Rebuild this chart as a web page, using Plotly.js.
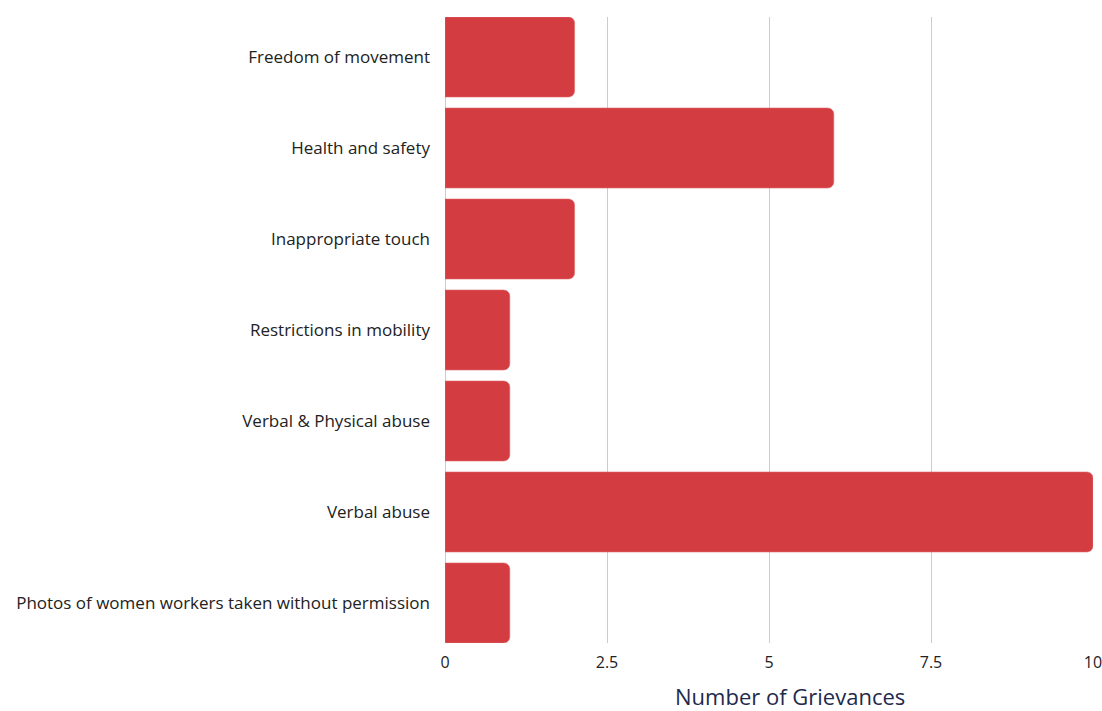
<!DOCTYPE html>
<html>
<head>
<meta charset="utf-8">
<script src="https://cdn.plot.ly/plotly-3.0.1.min.js"></script>
<style>html,body{margin:0;padding:0;background:#fff;}#chart{width:1102px;height:711px;}</style>
</head>
<body>
<div id="chart"></div>
<script>
var categories = ["Freedom of movement", "Health and safety", "Inappropriate touch", "Restrictions in mobility", "Verbal & Physical abuse", "Verbal abuse", "Photos of women workers taken without permission"];
var grievances = [2, 6, 2, 1, 1, 10, 1];
var tickVals = [0, 2.5, 5, 7.5, 10];
var tickText = ["0", "2.5", "5", "7.5", "10"];
var axisTitle = "Number of Grievances";

var trace = {
  type: "bar",
  orientation: "h",
  y: categories,
  x: grievances,
  marker: {color: "#d33c40", cornerradius: 6, line: {color: "#e06a6d", width: 0.6}},
  hoverinfo: "x+y"
};

var FONT = "'Open Sans', Lato, sans-serif";
var layout = {
  width: 1102, height: 711,
  margin: {l: 445, r: 9, t: 17, b: 68},
  paper_bgcolor: "#fff", plot_bgcolor: "#fff",
  font: {family: FONT, size: 16, color: "#222"},
  bargap: 0.121,
  showlegend: false,
  xaxis: {
    range: [0, 10], tickvals: tickVals, ticktext: tickText,
    showgrid: true, gridcolor: "#cccccc", gridwidth: 1,
    zeroline: true, zerolinecolor: "#cccccc", zerolinewidth: 1,
    showline: false, ticks: "", ticklen: 0,
    ticklabeloverflow: "allow",
    ticklabelstandoff: 8,
    tickfont: {size: 16, color: "#222"}
  },
  yaxis: {
    categoryorder: "array", categoryarray: categories,
    range: [6.44, -0.44],
    showgrid: false, zeroline: false, showline: false, ticks: "",
    ticklabelstandoff: 14,
    tickfont: {size: 17, color: "#222"}
  },
  annotations: [{
    text: axisTitle, xref: "paper", yref: "paper", x: 0.532, y: 0,
    xanchor: "center", yanchor: "top", yshift: -37, showarrow: false,
    borderpad: 0,
    font: {size: 22, color: "#1f2a4d"}
  }]
};

Plotly.newPlot("chart", [trace], layout, {displayModeBar: false, staticPlot: true});
</script>
</body>
</html>
